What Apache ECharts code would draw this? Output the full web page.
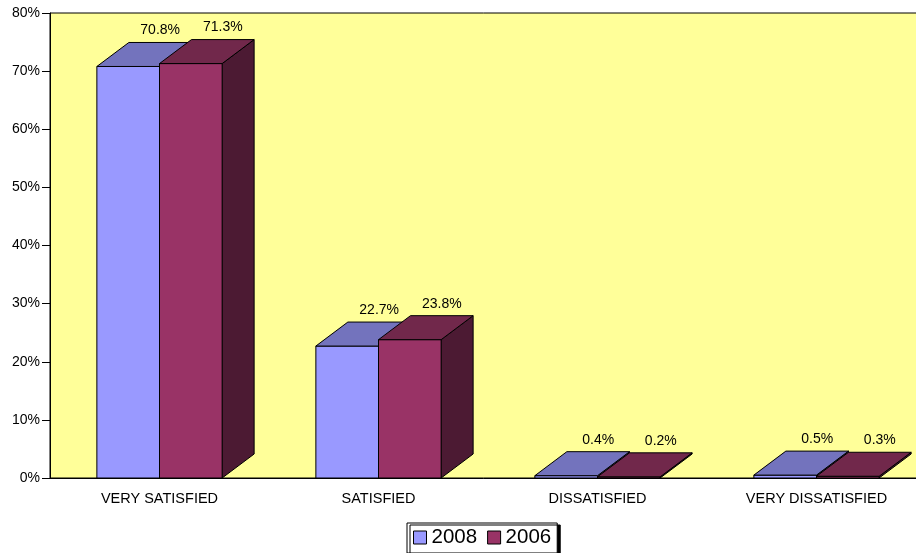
<!DOCTYPE html>
<html>
<head>
<meta charset="utf-8">
<script src="https://cdn.jsdelivr.net/npm/echarts@6/dist/echarts.min.js"></script>
<style>
  html, body { margin: 0; padding: 0; background: #fff; }
  #chart { width: 916px; height: 553px; }
</style>
</head>
<body>
<div id="chart"></div>
<script>
var categories = ['VERY SATISFIED', 'SATISFIED', 'DISSATISFIED', 'VERY DISSATISFIED'];
var years = ['2008', '2006'];
var values2008 = [70.8, 22.7, 0.4, 0.5];
var values2006 = [71.3, 23.8, 0.2, 0.3];

// 3d look, pixel offsets of the depth
var DX = 32, DY = -24;
var faces = {
    '2008': { front: '#9999FF', top: '#7373BD', side: '#4D4D80' },
    '2006': { front: '#993366', top: '#71284B', side: '#4C1A33' }
};

function bar3d(side, colors) {
    return function (params, api) {
        var i = api.value(0);
        var v = api.value(1);
        var top = api.coord([i, v]);
        var base = api.coord([i, 0]);
        var w = api.size([1, 0])[0] * 0.286;
        var x0 = side < 0 ? top[0] - w : top[0];
        var x1 = x0 + w;
        var yt = top[1], yb = base[1];
        var stroke = { stroke: '#000', lineWidth: 1 };
        return {
            type: 'group',
            children: [
                { type: 'polygon', shape: { points: [[x1, yt], [x1 + DX, yt + DY], [x1 + DX, yb + DY], [x1, yb]] },
                  style: Object.assign({ fill: colors.side }, stroke) },
                { type: 'rect', shape: { x: x0, y: yt, width: w, height: yb - yt },
                  style: Object.assign({ fill: colors.front }, stroke) },
                { type: 'polygon', shape: { points: [[x0, yt], [x0 + DX, yt + DY], [x1 + DX, yt + DY], [x1, yt]] },
                  style: Object.assign({ fill: colors.top }, stroke) },
                { type: 'text', style: { text: v.toFixed(1) + '%', x: (x0 + x1) / 2 + DX, y: yt + DY - 12,
                  align: 'center', verticalAlign: 'middle', fill: '#000',
                  font: '14px "Liberation Sans", Arial, sans-serif' } }
            ]
        };
    };
}

var myChart = echarts.init(document.getElementById('chart'));

var option = {
    animation: false,
    textStyle: { fontFamily: '"Liberation Sans", Arial, sans-serif' },
    grid: {
        left: 50, top: 13, width: 876, bottom: 75,
        outerBoundsMode: 'none',
        containLabel: false,
        show: true, backgroundColor: '#FFFF99', borderColor: '#000', borderWidth: 1
    },
    legend: {
        data: years,
        left: 407, top: 523,
        icon: 'rect',
        itemWidth: 13, itemHeight: 13, itemGap: 10,
        padding: [4, 6, 5, 6],
        backgroundColor: '#fff',
        borderColor: '#000', borderWidth: 1,
        shadowColor: '#000', shadowOffsetX: 3, shadowOffsetY: 2, shadowBlur: 0,
        itemStyle: { borderColor: '#000', borderWidth: 1 },
        textStyle: { fontSize: 20.5, color: '#000' }
    },
    xAxis: {
        type: 'category',
        data: categories,
        axisLine: { lineStyle: { color: '#000' } },
        axisTick: { show: false },
        axisLabel: { fontSize: 14.5, color: '#000', margin: 13 }
    },
    yAxis: {
        type: 'value',
        min: 0, max: 80, interval: 10,
        splitLine: { show: false },
        axisLine: { show: true, lineStyle: { color: '#000' } },
        axisTick: { show: true, length: 8, lineStyle: { color: '#000' } },
        axisLabel: { formatter: '{value}%', fontSize: 14, color: '#000', margin: 10 }
    },
    series: [{
        name: '2008',
        type: 'custom',
        itemStyle: { color: faces['2008'].front },
        renderItem: bar3d(-1, faces['2008']),
        data: values2008.map(function (v, i) { return [i, v]; })
    }, {
        name: '2006',
        type: 'custom',
        itemStyle: { color: faces['2006'].front },
        renderItem: bar3d(1, faces['2006']),
        data: values2006.map(function (v, i) { return [i, v]; })
    }]
};

myChart.setOption(option);
</script>
</body>
</html>
